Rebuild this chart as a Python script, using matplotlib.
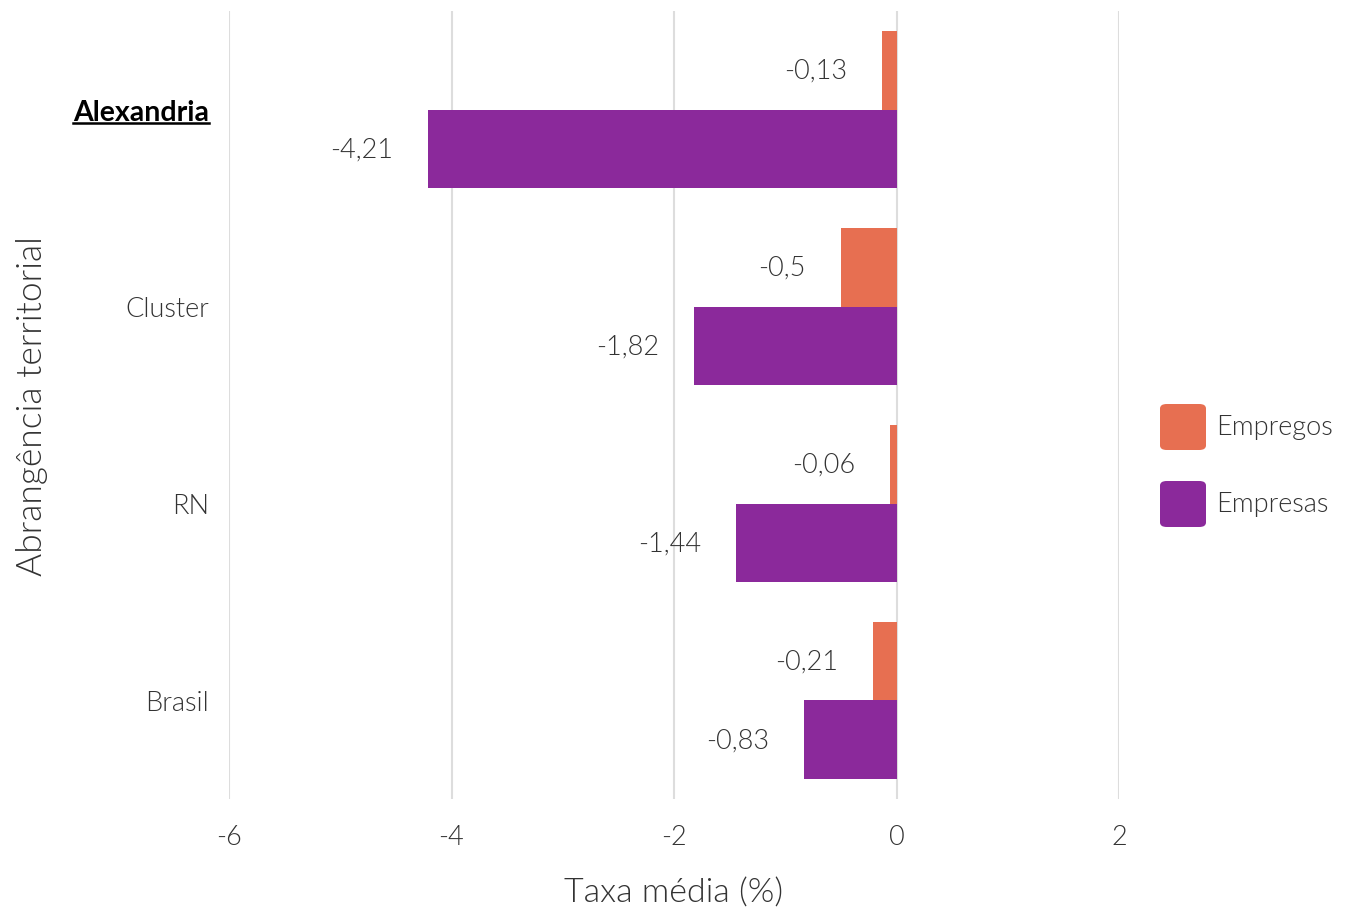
import numpy as np
import matplotlib
import matplotlib.pyplot as plt
from matplotlib.patches import FancyBboxPatch
from matplotlib.lines import Line2D

matplotlib.use('Agg')

plt.rcParams['font.family'] = ['Lato', 'DejaVu Sans']
plt.rcParams['font.weight'] = 300

# data
regioes = ["Alexandria", "Cluster", "RN", "Brasil"]
empregos = [-0.13, -0.5, -0.06, -0.21]
empresas = [-4.21, -1.82, -1.44, -0.83]
series_nomes = ["Empregos", "Empresas"]
cores = ["#E76F51", "#8B299B"]
xticks = [-6, -4, -2, 0, 2]

W, H = 1351, 912
fig = plt.figure(figsize=(W / 100, H / 100), dpi=100)
ax = fig.add_axes([229 / W, 1 - 800 / H, (1119 - 229) / W, (800 - 12) / H])

txtcor = '#333333'
y = np.arange(len(regioes))
h = 0.4
for k, (vals, cor) in enumerate(zip([empregos, empresas], cores)):
    pos = y - h / 2 + k * h
    ax.barh(pos, vals, height=h, color=cor, zorder=2)
    for yy, v in zip(pos, vals):
        txt = f"{v:g}".replace('.', ',')
        ax.annotate(txt, (v, yy), xytext=(-35, 0), textcoords='offset pixels',
                    ha='right', va='center', fontsize=19.5, color=txtcor,
                    fontweight=300)

ax.set_xlim(-6, 2)
ax.set_ylim(len(regioes) - 0.5, -0.5)
ax.set_xticks(xticks)
ax.set_xticklabels([str(t) for t in xticks])
ax.set_yticks(y)
ax.set_yticklabels(regioes)
ax.grid(axis='x', color='#DDDDDD', linewidth=1.5, zorder=0)
ax.set_axisbelow(True)
for s in ax.spines.values():
    s.set_visible(False)
ax.tick_params(length=0, labelsize=19.5, labelcolor=txtcor)
ax.tick_params(axis='y', pad=14.5)
ax.tick_params(axis='x', pad=18)

ax.set_xlabel("Taxa média (%)", fontsize=24.5, color=txtcor, va='top',
              fontweight=300)
ax.xaxis.set_label_coords(0.5, -0.1)
ax.set_ylabel("Abrangência territorial", fontsize=25.5, color=txtcor,
              fontweight=300)
ax.yaxis.set_label_coords(-0.203, 0.5)

# bold + underlined first category
lab0 = ax.get_yticklabels()[0]
lab0.set_fontweight('bold')
lab0.set_fontsize(20.5)
lab0.set_color('black')
fig.canvas.draw()
bb = lab0.get_window_extent()
fig.add_artist(Line2D([bb.x0 / W, bb.x1 / W], [(bb.y0 + 2) / H, (bb.y0 + 2) / H],
                      color='black', linewidth=1.8))

# legend
for i, (nome, cor) in enumerate(zip(series_nomes, cores)):
    y0 = 404 + i * 77
    fig.add_artist(FancyBboxPatch((1160 / W, 1 - (y0 + 47) / H), 46 / W, 46 / H,
                                  boxstyle="round,pad=0,rounding_size=0.005",
                                  transform=fig.transFigure, facecolor=cor,
                                  edgecolor='none'))
    fig.text(1216 / W, 1 - (y0 + 24) / H, nome, fontsize=19.5, color=txtcor,
             ha='left', va='center', fontweight=300)

fig.savefig("out.png", dpi=100)
